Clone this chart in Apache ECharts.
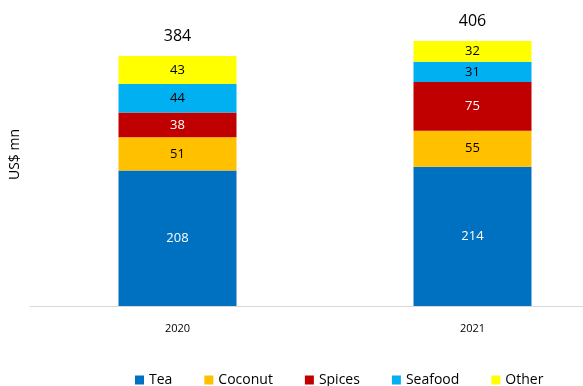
<!DOCTYPE html>
<html>
<head>
<meta charset="utf-8">
<script src="https://cdn.jsdelivr.net/npm/echarts@6/dist/echarts.min.js"></script>
</head>
<body style="margin:0;">
<div id="main" style="width:583px;height:386px;"></div>
<script type="text/javascript">
	var years = ['2020', '2021'];
	var tea = [208, 214];
	var coconut = [51, 55];
	var spices = [38, 75];
	var seafood = [44, 31];
	var other = [43, 32];
	var totals = [384, 406];

	var font = 'Open Sans';

	function seg(name, data, color, labelColor) {
		return {
			name: name,
			type: 'bar',
			stack: 'all',
			barWidth: '40%',
			data: data,
			itemStyle: { color: color },
			label: {
				show: true,
				position: 'inside',
				color: labelColor,
				fontFamily: font,
				fontSize: 13
			}
		};
	}

	var chart = echarts.init(document.getElementById('main'));
	chart.setOption({
		animation: false,
		grid: { left: 30, width: 590, top: 13, height: 293, outerBoundsMode: 'none' },
		legend: {
			top: 368,
			left: 130,
			itemWidth: 9,
			itemHeight: 9,
			itemGap: 32,
			icon: 'rect',
			textStyle: { fontFamily: font, fontSize: 14, color: '#000' },
			data: ['Tea', 'Coconut', 'Spices', 'Seafood', 'Other']
		},
		xAxis: {
			type: 'category',
			data: years,
			axisLine: { lineStyle: { color: '#d9d9d9', width: 1 } },
			axisTick: { show: false },
			axisLabel: { color: '#000', fontFamily: font, fontSize: 11, margin: 17 }
		},
		yAxis: {
			type: 'value',
			min: 0,
			max: 450,
			name: 'US$ mn',
			nameLocation: 'middle',
			nameGap: 8,
			nameTextStyle: { color: '#000', fontFamily: font, fontSize: 14, padding: [0, 0, 0, 10] },
			axisLine: { show: false },
			axisTick: { show: false },
			axisLabel: { show: false },
			splitLine: { show: false }
		},
		series: [
			seg('Tea', tea, '#0070c0', '#fff'),
			seg('Coconut', coconut, '#ffc000', '#000'),
			seg('Spices', spices, '#c00000', '#fff'),
			seg('Seafood', seafood, '#00b0f0', '#000'),
			seg('Other', other, '#ffff00', '#000'),
			{
				name: 'Total',
				type: 'bar',
				stack: 'all',
				barWidth: '40%',
				data: [0, 0],
				itemStyle: { color: 'transparent' },
				label: {
					show: true,
					position: 'top',
					distance: 12,
					color: '#000',
					fontFamily: font,
					fontSize: 16,
					formatter: function (p) { return totals[p.dataIndex]; }
				}
			}
		]
	});
</script>
</body>
</html>
